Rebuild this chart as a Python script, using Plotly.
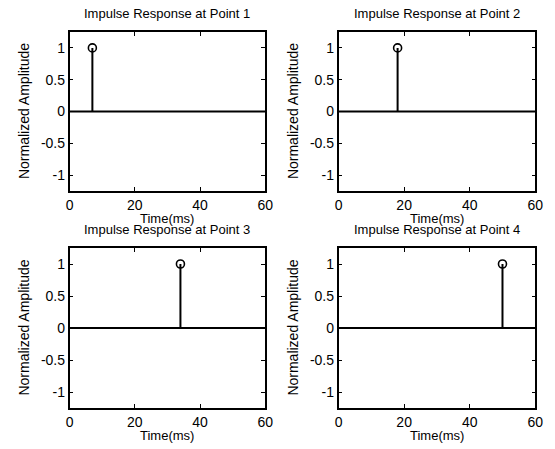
import plotly.graph_objects as go

# Data
titles = ["Impulse Response at Point 1", "Impulse Response at Point 2",
          "Impulse Response at Point 3", "Impulse Response at Point 4"]
impulse_times = [7, 18, 34, 50]
impulse_amps = [1, 1, 1, 1]
t_range = [0, 60]
x_ticks = [0, 20, 40, 60]
y_ticks = [-1, -0.5, 0, 0.5, 1]
y_tick_labels = ["-1", "-0.5", "0", "0.5", "1"]

W, H = 555, 449
xdoms = [[67/W, 267/W], [342/W, 543/W]]
ydoms = [[1-191/H, 1-32/H], [1-408/H, 1-248/H]]

fig = go.Figure()
fam = "Liberation Sans, Arial, sans-serif"
tickfont = dict(family=fam, size=14, color="black")
titlefont = dict(family=fam, size=13, color="black")
labfont = dict(family=fam, size=13, color="black")
ylabfont = dict(family=fam, size=14, color="black")
annotations = []
for i in range(4):
    r, c = divmod(i, 2)
    n = "" if i == 0 else str(i+1)
    xa, ya = "x" + n, "y" + n
    t0 = impulse_times[i]
    a0 = impulse_amps[i]
    # baseline
    fig.add_trace(go.Scatter(x=[t_range[0], t_range[1]], y=[0, 0], mode="lines",
                             line=dict(color="black", width=1.8), xaxis=xa, yaxis=ya,
                             showlegend=False, hoverinfo="skip"))
    # stem
    fig.add_trace(go.Scatter(x=[t0, t0], y=[0, a0], mode="lines",
                             line=dict(color="black", width=2), xaxis=xa, yaxis=ya,
                             showlegend=False))
    fig.add_trace(go.Scatter(x=[t0], y=[a0], mode="markers",
                             marker=dict(symbol="circle-open", size=8, color="black",
                                         line=dict(width=1.6, color="black")),
                             xaxis=xa, yaxis=ya, showlegend=False))
    axcommon = dict(showline=True, linecolor="black", linewidth=1.5, mirror="allticks",
                    ticks="inside", ticklen=4, tickcolor="black", showgrid=False,
                    zeroline=False, tickfont=tickfont)
    fig.update_layout(**{
        ("xaxis" + n): dict(domain=xdoms[c], range=t_range, tickvals=x_ticks,
                            anchor=ya, **axcommon),
        ("yaxis" + n): dict(domain=ydoms[r], range=[-1.25, 1.25], tickvals=y_ticks,
                            ticktext=y_tick_labels, anchor=xa, **axcommon),
    })
    xc = (xdoms[c][0] + xdoms[c][1]) / 2
    ytop = ydoms[r][1]
    ybot = ydoms[r][0]
    annotations.append(dict(text=titles[i], x=xc, y=ytop + 9/H, xref="paper", yref="paper",
                            xanchor="center", yanchor="bottom", showarrow=False, font=titlefont))
    annotations.append(dict(text="Time(ms)", x=xc, y=ybot - 18/H,
                            xref="paper", yref="paper",
                            xanchor="center", yanchor="top", showarrow=False, font=labfont))
    annotations.append(dict(text="Normalized Amplitude", x=xdoms[c][0] - 47/W,
                            y=(ydoms[r][0] + ydoms[r][1]) / 2, xref="paper", yref="paper",
                            xanchor="center", yanchor="middle", textangle=-90,
                            showarrow=False, font=ylabfont))

fig.update_layout(width=W, height=H, margin=dict(l=0, r=0, t=0, b=0),
                  paper_bgcolor="white", plot_bgcolor="white",
                  annotations=annotations, font=tickfont)
fig.write_html("out.html", config={"displayModeBar": False},
               post_script="document.body.style.margin='0';")
